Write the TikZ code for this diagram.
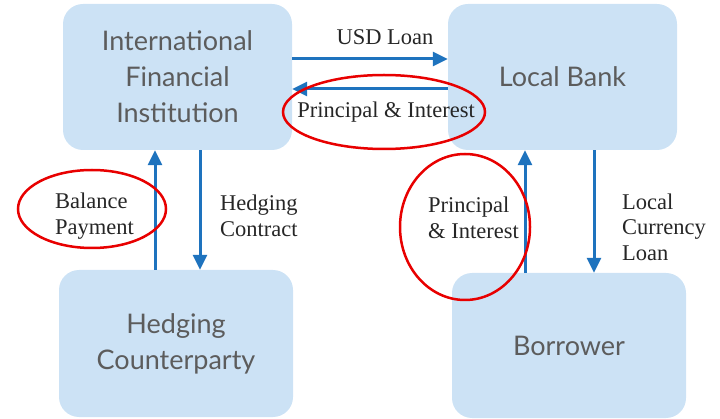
\documentclass[tikz,border=0pt]{standalone}
\usepackage{fontspec}
\setmainfont{Liberation Serif}
\newfontfamily\boxfont{Lato}
\usepackage{tikz}
\usetikzlibrary{shapes.geometric, arrows.meta, positioning, calc}
\usepackage{xcolor}
\definecolor{boxcolor}{RGB}{204,226,245}
\definecolor{flowcolor}{RGB}{30,115,190}
\definecolor{boxtext}{RGB}{92,92,92}
\definecolor{ringcolor}{RGB}{232,0,0}

\begin{document}
\begin{tikzpicture}[
    x=1pt, y=-1pt,
    party/.style={rectangle, fill=boxcolor, rounded corners=20pt, align=center, text=boxtext, font=\boxfont\fontsize{27}{36}\selectfont},
    lbl/.style={inner sep=0pt, align=left, font=\fontsize{22.5}{25.5}\selectfont, text=black!85},
    flow/.style={-{Triangle[length=15pt, width=14pt]}, line width=3pt, draw=flowcolor},
    ring/.style={ellipse, draw=ringcolor, line width=2.5pt, inner sep=0pt}
]
\useasboundingbox (0,0) rectangle (720,419);

% the four parties
\node[party, minimum width=229pt, minimum height=146pt] (ifi) at (177.5,77) {International\\Financial\\Institution};
\node[party, minimum width=229pt, minimum height=146pt] (bank) at (562.5,77) {Local Bank};
\node[party, minimum width=234pt, minimum height=147pt] (hedge) at (176,343.5) {Hedging\\Counterparty};
\node[party, minimum width=234pt, minimum height=145pt] (borrower) at (569,345.5) {Borrower};

% flows between them
\draw[flow] ([yshift=18pt]ifi.east) -- ([yshift=18pt]bank.west);
\draw[flow] ([yshift=-12pt]bank.west) -- ([yshift=-12pt]ifi.east);
\draw[flow] ([xshift=-22.5pt]ifi.south |- hedge.north) -- ([xshift=-22.5pt]ifi.south);
\draw[flow] ([xshift=22.5pt]ifi.south) -- ([xshift=22.5pt]ifi.south |- hedge.north);
\draw[flow] ([xshift=-37.5pt]bank.south |- borrower.north) -- ([xshift=-37.5pt]bank.south);
\draw[flow] ([xshift=31.5pt]bank.south) -- ([xshift=31.5pt]bank.south |- borrower.north);

% labels
\node[lbl, anchor=base] (usd) at (385,45) {USD Loan};
\node[lbl, anchor=base] (pitop) at (386,118) {Principal \& Interest};
\node[lbl, anchor=west] (balance) at (55,216) {Balance\\Payment};
\node[lbl, anchor=west] (contract) at (220,216) {Hedging\\Contract};
\node[lbl, anchor=west] (piright) at (428,218) {Principal\\\& Interest};
\node[lbl, anchor=west] (lcloan) at (622,227) {Local\\Currency\\Loan};

% red rings
\node[ring, minimum width=202pt, minimum height=74pt] (ringtop) at (384,112) {};
\node[ring, minimum width=148pt, minimum height=78pt] (ringleft) at (92,209) {};
\node[ring, minimum width=130pt, minimum height=146pt] (ringright) at (465,227) {};

\end{tikzpicture}
\end{document}
